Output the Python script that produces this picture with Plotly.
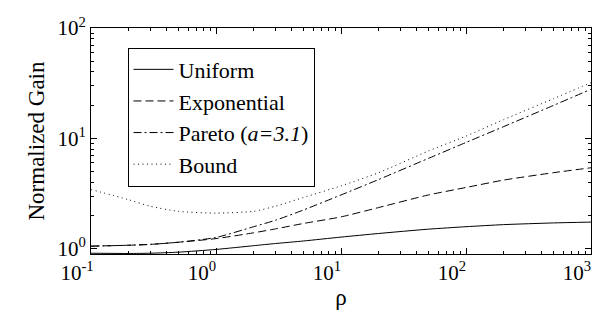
import numpy as np
import plotly.graph_objects as go

rho = [0.1, 0.2, 0.3, 0.5, 1, 2, 3, 5, 10, 20, 50, 100, 200, 500, 1000]
uniform = [0.915, 0.91, 0.915, 0.935, 0.99, 1.07, 1.12, 1.18, 1.28, 1.38, 1.51, 1.59, 1.66, 1.72, 1.75]
exponential = [1.06, 1.08, 1.10, 1.15, 1.24, 1.40, 1.52, 1.70, 1.95, 2.37, 3.08, 3.6, 4.2, 4.9, 5.43]
pareto = [1.06, 1.08, 1.10, 1.15, 1.27, 1.59, 1.82, 2.25, 3.08, 4.25, 6.6, 9.2, 12.8, 19.9, 27.9]
bound = [3.45, 2.79, 2.43, 2.19, 2.11, 2.19, 2.44, 2.92, 3.72, 4.9, 7.7, 10.5, 14.8, 22.9, 32.0]

series = [
    ("Uniform", uniform, "solid"),
    ("Exponential", exponential, "8px,4px"),
    ("Pareto (<i>a=3.1</i>)", pareto, "8px,3px,2px,3px"),
    ("Bound", bound, "1px,3.5px"),
]

x_major = [0.1, 1, 10, 100, 1000]
x_labels = ["10<sup>-1</sup>", "10<sup>0</sup>", "10<sup>1</sup>", "10<sup>2</sup>", "10<sup>3</sup>"]
y_major = [1, 10, 100]
y_labels = ["10<sup>0</sup>", "10<sup>1</sup>", "10<sup>2</sup>"]

x_minor = [m * 10.0 ** e for e in range(-1, 3) for m in range(2, 10)]
y_minor = [m * 10.0 ** e for e in range(0, 2) for m in range(2, 10)]

FONT = "Liberation Serif"

fig = go.Figure()
for name, vals, dash in series:
    fig.add_trace(go.Scatter(
        x=rho, y=vals, mode="lines", name=name,
        line=dict(color="black", width=1, dash=dash, shape="spline", smoothing=0.6),
    ))

axis_common = dict(
    type="log", showgrid=False, zeroline=False,
    showline=True, linecolor="black", linewidth=1, mirror="ticks",
    ticks="inside", ticklen=6, tickwidth=1, tickcolor="black",
    tickfont=dict(family=FONT, size=21, color="black"),
    minor=dict(ticks="inside", ticklen=3, tickwidth=1, tickcolor="black", showgrid=False),
)

fig.update_xaxes(
    **axis_common, range=[-1, 3], tickmode="array", tickvals=x_major, ticktext=x_labels,
    ticklabelshift=-14,
    title=dict(text="ρ", font=dict(family=FONT, size=23, color="black"), standoff=4),
)
fig.update_xaxes(minor_tickmode="array", minor_tickvals=x_minor)
fig.update_yaxes(
    **axis_common, range=[np.log10(0.9), 2], tickmode="array", tickvals=y_major, ticktext=y_labels,
    title=dict(text="Normalized Gain", font=dict(family=FONT, size=23, color="black"), standoff=6),
)
fig.update_yaxes(minor_tickmode="array", minor_tickvals=y_minor)

fig.update_layout(
    width=600, height=311,
    margin=dict(l=83, r=17, t=20, b=65, autoexpand=False),
    paper_bgcolor="white", plot_bgcolor="white",
    font=dict(family=FONT, color="black"),
    showlegend=True,
    legend=dict(
        x=0.073, y=0.9135, xanchor="left", yanchor="top",
        bgcolor="white", bordercolor="black", borderwidth=1,
        font=dict(family=FONT, size=22, color="black"),
        tracegroupgap=0, itemwidth=40,
    ),
)

fig.write_html("out.html")
